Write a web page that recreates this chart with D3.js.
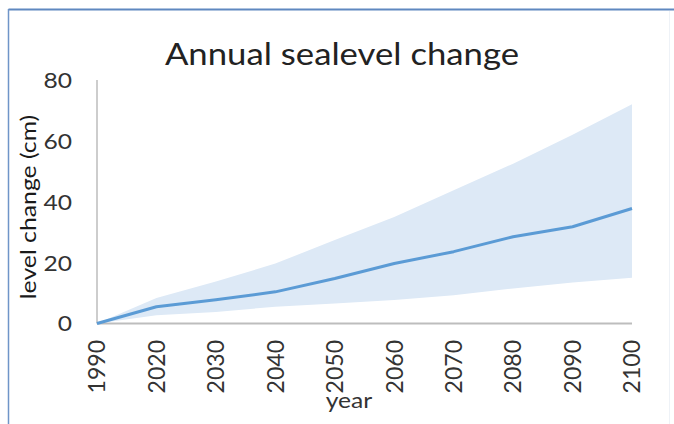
<!DOCTYPE html>
<html>
<head>
<meta charset="utf-8">
<script src="https://cdn.jsdelivr.net/npm/d3@7"></script>
<style>
  html, body { margin: 0; padding: 0; background: #fff; }
  svg { display: block; }
</style>
</head>
<body>
<svg id="chart" width="674" height="424"></svg>
<script>
// Projected sea level change: central estimate with low/high range (cm)
const years = ["1990", "2020", "2030", "2040", "2050", "2060", "2070", "2080", "2090", "2100"];
const central = [0, 5.5, 7.8, 10.4, 14.8, 19.7, 23.6, 28.5, 31.8, 37.8];
const upper = [0, 8.4, 13.8, 19.7, 27.4, 35.0, 43.8, 52.5, 62.0, 72.0];
const lower = [0, 2.7, 3.8, 5.5, 6.6, 7.7, 9.3, 11.5, 13.5, 15.0];
const yTicks = [0, 20, 40, 60, 80];

const rows = years.map((y, i) => ({ year: y, mid: central[i], hi: upper[i], lo: lower[i] }));

const svg = d3.select("#chart");
const FONT = "Lato, 'Open Sans', sans-serif";
const WIDEN = 1.12; // Lato runs narrower than the chart's original face

// frame of the chart area
svg.append("line").attr("x1", 8.5).attr("x2", 674).attr("y1", 9.5).attr("y2", 9.5)
  .attr("stroke", "#5f88c0").attr("stroke-width", 2);
svg.append("line").attr("x1", 8.5).attr("x2", 8.5).attr("y1", 9).attr("y2", 424)
  .attr("stroke", "#6f95c8").attr("stroke-width", 1.5);
svg.append("line").attr("x1", 669.5).attr("x2", 669.5).attr("y1", 11).attr("y2", 424)
  .attr("stroke", "#eef2f7").attr("stroke-width", 1);

const x = d3.scalePoint().domain(years).range([97, 632]);
const y = d3.scaleLinear().domain([0, 80]).range([323.5, 80]);

// range band
const band = d3.area()
  .x(d => x(d.year))
  .y0(d => y(d.lo))
  .y1(d => y(d.hi));
svg.append("path").datum(rows)
  .attr("d", band)
  .attr("fill", "#dde9f6");

// axes
svg.append("line").attr("x1", 97).attr("x2", 97).attr("y1", y(80)).attr("y2", y(0))
  .attr("stroke", "#bdbdbd").attr("stroke-width", 1.5);
svg.append("line").attr("x1", 97).attr("x2", 632).attr("y1", y(0)).attr("y2", y(0))
  .attr("stroke", "#bdbdbd").attr("stroke-width", 2);

// central line
const line = d3.line().x(d => x(d.year)).y(d => y(d.mid));
svg.append("path").datum(rows)
  .attr("d", line)
  .attr("fill", "none")
  .attr("stroke", "#5b9bd5")
  .attr("stroke-width", 3)
  .attr("stroke-linejoin", "round");

// y tick labels
svg.append("g").selectAll("text").data(yTicks).join("text")
  .attr("transform", d => `translate(72,${y(d)}) scale(${WIDEN},1)`)
  .attr("dy", "0.36em")
  .attr("text-anchor", "end")
  .attr("font-family", FONT)
  .attr("font-size", 22)
  .attr("fill", "#333")
  .text(d => d);

// x tick labels, rotated
svg.append("g").selectAll("text").data(years).join("text")
  .attr("transform", d => `translate(${x(d)},340) rotate(-90)`)
  .attr("dy", "0.36em")
  .attr("text-anchor", "end")
  .attr("font-family", FONT)
  .attr("font-size", 23)
  .attr("fill", "#333")
  .text(d => d);

// title
svg.append("text")
  .attr("transform", `translate(342,65) scale(${WIDEN},1)`)
  .attr("text-anchor", "middle")
  .attr("font-family", FONT)
  .attr("font-size", 31)
  .attr("fill", "#222")
  .text("Annual sealevel change");

// axis titles
svg.append("text")
  .attr("transform", `translate(349,408) scale(${WIDEN},1)`)
  .attr("text-anchor", "middle")
  .attr("font-family", FONT)
  .attr("font-size", 22)
  .attr("fill", "#333")
  .text("year");

svg.append("text")
  .attr("transform", "translate(28,207) rotate(-90) scale(1.18,1)")
  .attr("dy", "0.36em")
  .attr("text-anchor", "middle")
  .attr("font-family", FONT)
  .attr("font-size", 21)
  .attr("fill", "#1a1a1a")
  .text("level change (cm)");
</script>
</body>
</html>
